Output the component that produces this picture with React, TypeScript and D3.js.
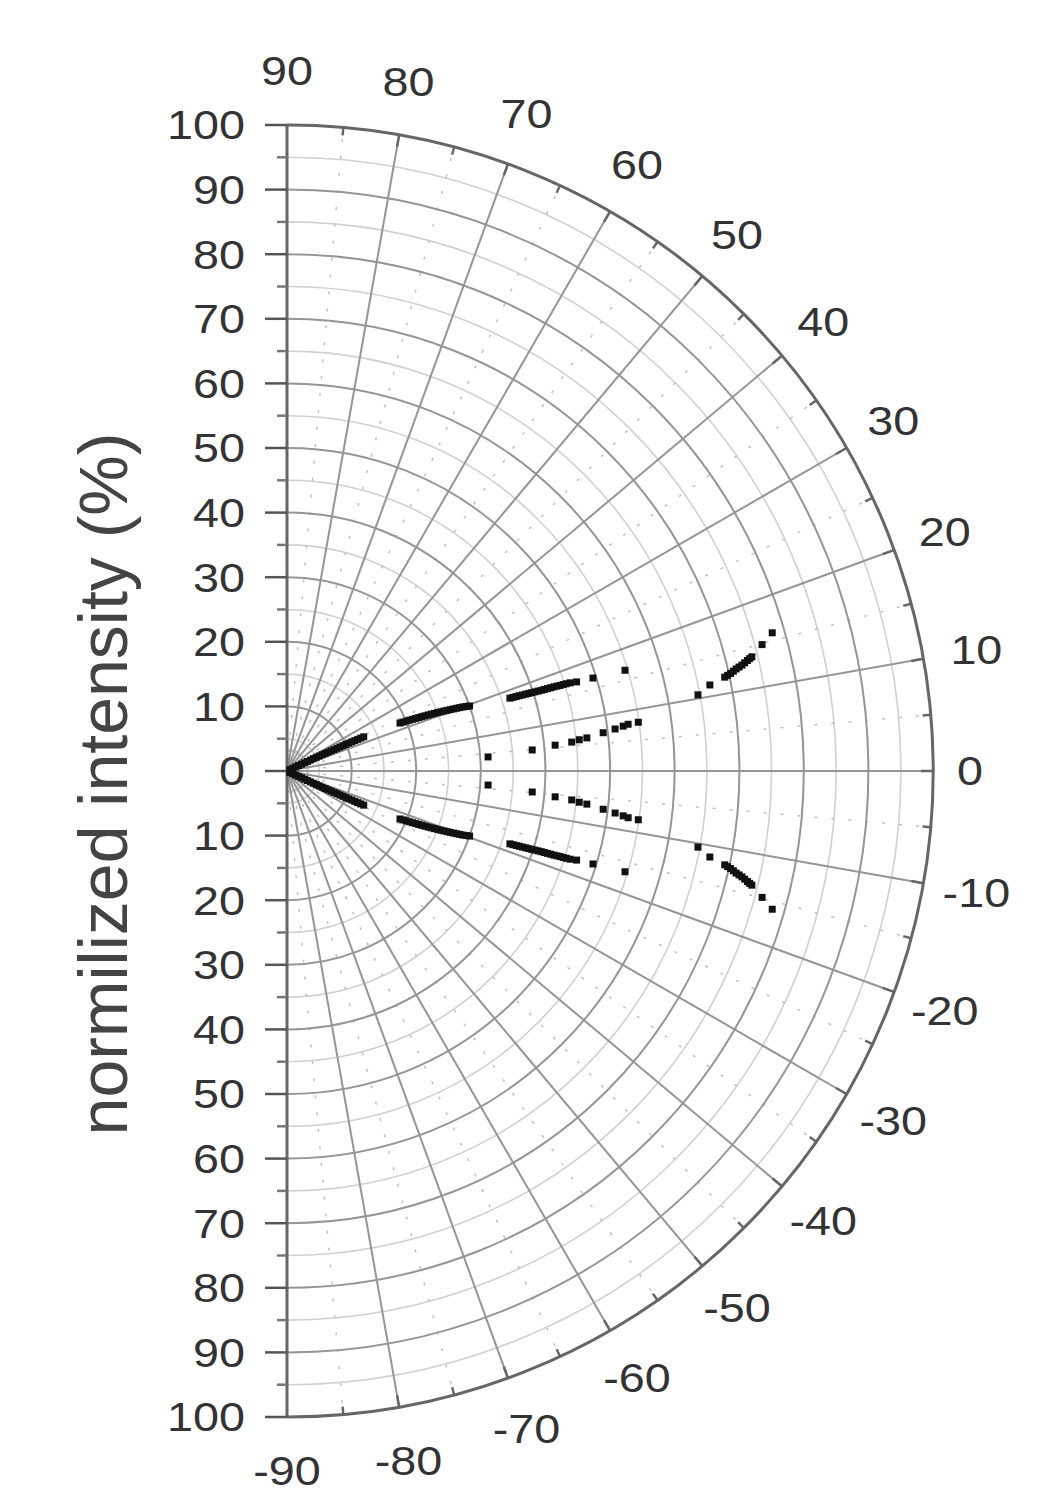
import React from "react";
import * as d3 from "d3";

// ---- data (angle in degrees, r in %) ----
const radialTicks = [100, 90, 80, 70, 60, 50, 40, 30, 20, 10, 0, 10, 20, 30, 40, 50, 60, 70, 80, 90, 100];
const angleTicks = [90, 80, 70, 60, 50, 40, 30, 20, 10, 0, -10, -20, -30, -40, -50, -60, -70, -80, -90];

const upperA: [number, number][] = [
  [25.5, 0.5], [25.4, 1], [25.3, 1.5], [25.2, 2], [25.1, 2.5], [25, 3], [25, 3.5], [25, 4], [25, 4.5], [25, 5], [24.9, 5.5], [24.8, 6], [24.7, 6.5], [24.6, 7],
  [24.55, 7.5], [24.5, 8], [24.45, 8.5], [24.4, 9], [24.35, 9.5], [24.3, 10], [24.25, 10.5], [24.2, 11], [24.15, 11.5], [24.1, 12], [24.05, 12.5], [24, 13],
  [23.0, 19], [22.85, 19.5], [22.7, 20], [22.55, 20.5], [22.4, 21], [22.25, 21.5], [22.1, 22], [21.95, 22.5], [21.8, 23], [21.65, 23.5], [21.5, 24], [21.35, 24.5],
  [21.2, 25], [21.05, 25.5], [20.9, 26], [20.75, 26.5], [20.6, 27], [20.45, 27.5], [20.3, 28], [20.15, 28.5], [20.0, 29], [19.8, 29.5], [19.6, 30],
  [18.1, 36.3], [18.05, 36.8], [18.0, 37.3], [17.95, 37.8], [17.9, 38.3], [17.85, 38.8], [17.8, 39.3], [17.75, 39.8], [17.7, 40.3], [17.65, 40.8], [17.6, 41.3],
  [17.58, 41.8], [17.55, 42.3], [17.52, 42.8], [17.5, 43.3], [17.45, 43.8], [17.4, 44.3], [17.38, 44.8], [17.35, 45.3], [17.3, 45.9],
  [17.1, 46.9], [16.9, 49.5], [16.6, 54.6],
];
const upperB: [number, number][] = [
  [4.0, 31.2], [4.9, 38.1], [5.5, 41.7], [5.8, 44.3], [6.1, 45.5], [6.3, 46.7], [6.9, 49.3], [7.3, 51.2], [7.6, 52.5], [7.8, 53.3], [7.9, 54.9],
];
const upperC: [number, number][] = [
  [10.5, 64.7], [11.5, 66.8], [12.1, 69.3], [12.25, 69.8], [12.4, 70.3], [12.6, 70.8], [12.8, 71.3], [12.95, 71.8], [13.1, 72.3], [13.3, 72.8], [13.5, 73.3],
  [13.65, 73.7], [13.8, 74.1], [14.9, 76.1], [15.9, 78.1],
];
const lowerA: [number, number][] = [
  [-25.5, 0.5], [-25.4, 1], [-25.3, 1.5], [-25.2, 2], [-25.1, 2.5], [-25, 3], [-25, 3.5], [-25, 4], [-25, 4.5], [-25, 5], [-24.9, 5.5], [-24.8, 6], [-24.7, 6.5], [-24.6, 7],
  [-24.55, 7.5], [-24.5, 8], [-24.45, 8.5], [-24.4, 9], [-24.35, 9.5], [-24.3, 10], [-24.25, 10.5], [-24.2, 11], [-24.15, 11.5], [-24.1, 12], [-24.05, 12.5], [-24, 13],
  [-23.0, 19], [-22.85, 19.5], [-22.7, 20], [-22.55, 20.5], [-22.4, 21], [-22.25, 21.5], [-22.1, 22], [-21.95, 22.5], [-21.8, 23], [-21.65, 23.5], [-21.5, 24], [-21.35, 24.5],
  [-21.2, 25], [-21.05, 25.5], [-20.9, 26], [-20.75, 26.5], [-20.6, 27], [-20.45, 27.5], [-20.3, 28], [-20.15, 28.5], [-20.0, 29], [-19.8, 29.5], [-19.6, 30],
  [-18.1, 36.3], [-18.05, 36.8], [-18.0, 37.3], [-17.95, 37.8], [-17.9, 38.3], [-17.85, 38.8], [-17.8, 39.3], [-17.75, 39.8], [-17.7, 40.3], [-17.65, 40.8], [-17.6, 41.3],
  [-17.58, 41.8], [-17.55, 42.3], [-17.52, 42.8], [-17.5, 43.3], [-17.45, 43.8], [-17.4, 44.3], [-17.38, 44.8], [-17.35, 45.3], [-17.3, 45.9],
  [-17.1, 46.9], [-16.9, 49.5], [-16.6, 54.6],
];
const lowerB: [number, number][] = [
  [-4.0, 31.2], [-4.9, 38.1], [-5.5, 41.7], [-5.8, 44.3], [-6.1, 45.5], [-6.3, 46.7], [-6.9, 49.3], [-7.3, 51.2], [-7.6, 52.5], [-7.8, 53.3], [-7.9, 54.9],
];
const lowerC: [number, number][] = [
  [-10.5, 64.7], [-11.5, 66.8], [-12.1, 69.3], [-12.25, 69.8], [-12.4, 70.3], [-12.6, 70.8], [-12.8, 71.3], [-12.95, 71.8], [-13.1, 72.3], [-13.3, 72.8], [-13.5, 73.3],
  [-13.65, 73.7], [-13.8, 74.1], [-14.9, 76.1], [-15.9, 78.1],
];
const allSeries = [upperA, upperB, upperC, lowerA, lowerB, lowerC];

const yTitle = "normilized intensity (%)";

// ---- layout ----
const W = 1052, H = 1511;
const CX = 287, CY = 771, R = 646;
const FONT = "'Liberation Sans', Arial, sans-serif";
const TEXT = "#333";

const rScale = d3.scaleLinear().domain([0, 100]).range([0, R]);
const toRad = (deg: number) => (deg * Math.PI) / 180;
const pt = (deg: number, r: number): [number, number] => [
  CX + rScale(r) * Math.cos(toRad(deg)),
  CY - rScale(r) * Math.sin(toRad(deg)),
];
const ptPx = (deg: number, rpx: number): [number, number] => [
  CX + rpx * Math.cos(toRad(deg)),
  CY - rpx * Math.sin(toRad(deg)),
];

const arcPath = (r: number) => {
  const rr = rScale(r);
  const p = d3.path();
  p.arc(CX, CY, rr, -Math.PI / 2, Math.PI / 2, false);
  return p.toString();
};

function SLabel({ x, y, children, anchor = "middle", size = 41 }: any) {
  return (
    <g transform={`translate(${x},${y}) scale(1.14,1)`}>
      <text
        x={0}
        y={0}
        textAnchor={anchor}
        dominantBaseline="central"
        fontFamily={FONT}
        fontSize={size}
        fill={TEXT}
      >
        {children}
      </text>
    </g>
  );
}

export default function App() {
  const light = d3.range(5, 100, 10);
  const dark = d3.range(10, 100, 10);
  const radDark = d3.range(-80, 81, 10);
  const radDot = d3.range(-85, 86, 10);
  const minorArcTicks = d3.range(-85, 86, 10);
  const majorArcTicks = d3.range(-80, 81, 10);
  const yVals = d3.range(-100, 101, 10);
  const yMinor = d3.range(-95, 96, 10);
  const M = 7;

  return (
    <svg
      width={W}
      height={H}
      style={{ position: "absolute", left: 0, top: 0, background: "#fff" }}
    >
      <rect x={0} y={0} width={W} height={H} fill="#fff" />

      {light.map((r) => (
        <path key={"l" + r} d={arcPath(r)} fill="none" stroke="#d0d0d0" strokeWidth={1.6} />
      ))}
      {radDot.map((a) => {
        const [x1, y1] = pt(a, 3);
        const [x2, y2] = pt(a, 100);
        return (
          <line key={"rd" + a} x1={x1} y1={y1} x2={x2} y2={y2} stroke="#c0c0c0" strokeWidth={1.5} strokeDasharray="3,14" />
        );
      })}
      {dark.map((r) => (
        <path key={"d" + r} d={arcPath(r)} fill="none" stroke="#959595" strokeWidth={2} />
      ))}
      {radDark.map((a) => {
        const [x2, y2] = pt(a, 100);
        return <line key={"r" + a} x1={CX} y1={CY} x2={x2} y2={y2} stroke="#959595" strokeWidth={2} />;
      })}

      <path d={arcPath(100)} fill="none" stroke="#666" strokeWidth={3} />
      {minorArcTicks.map((a) => {
        const [x1, y1] = ptPx(a, R);
        const [x2, y2] = ptPx(a, R - 8);
        return <line key={"mt" + a} x1={x1} y1={y1} x2={x2} y2={y2} stroke="#666" strokeWidth={2.5} />;
      })}
      {majorArcTicks.map((a) => {
        const [x1, y1] = ptPx(a, R);
        const [x2, y2] = ptPx(a, R - 12);
        return <line key={"Mt" + a} x1={x1} y1={y1} x2={x2} y2={y2} stroke="#666" strokeWidth={2.5} />;
      })}

      <line x1={CX} y1={CY - R} x2={CX} y2={CY + R} stroke="#666" strokeWidth={3} />
      {yVals.map((v) => (
        <line key={"yt" + v} x1={CX - 22} y1={CY - rScale(v)} x2={CX} y2={CY - rScale(v)} stroke="#555" strokeWidth={2.5} />
      ))}
      {yMinor.map((v) => (
        <line key={"ym" + v} x1={CX - 10} y1={CY - rScale(v)} x2={CX} y2={CY - rScale(v)} stroke="#777" strokeWidth={2.5} />
      ))}
      {radialTicks.map((t, i) => (
        <SLabel key={"yl" + i} x={245} y={CY - rScale(100 - i * 10)} anchor="end">
          {t}
        </SLabel>
      ))}

      {angleTicks.map((a) => {
        const [x, y] = ptPx(a, a === 0 ? R + 37 : R + 54);
        return (
          <SLabel key={"al" + a} x={x} y={y}>
            {a}
          </SLabel>
        );
      })}

      {allSeries.map((s, si) =>
        s.map(([a, r], i) => {
          const [x, y] = pt(a, r);
          return <rect key={si + "-" + i} x={x - M / 2} y={y - M / 2} width={M} height={M} fill="#111" />;
        })
      )}

      <text
        transform={`translate(127,784) rotate(-90)`}
        textAnchor="middle"
        fontFamily={FONT}
        fontSize={68}
        fill="#444"
      >
        {yTitle}
      </text>
    </svg>
  );
}
